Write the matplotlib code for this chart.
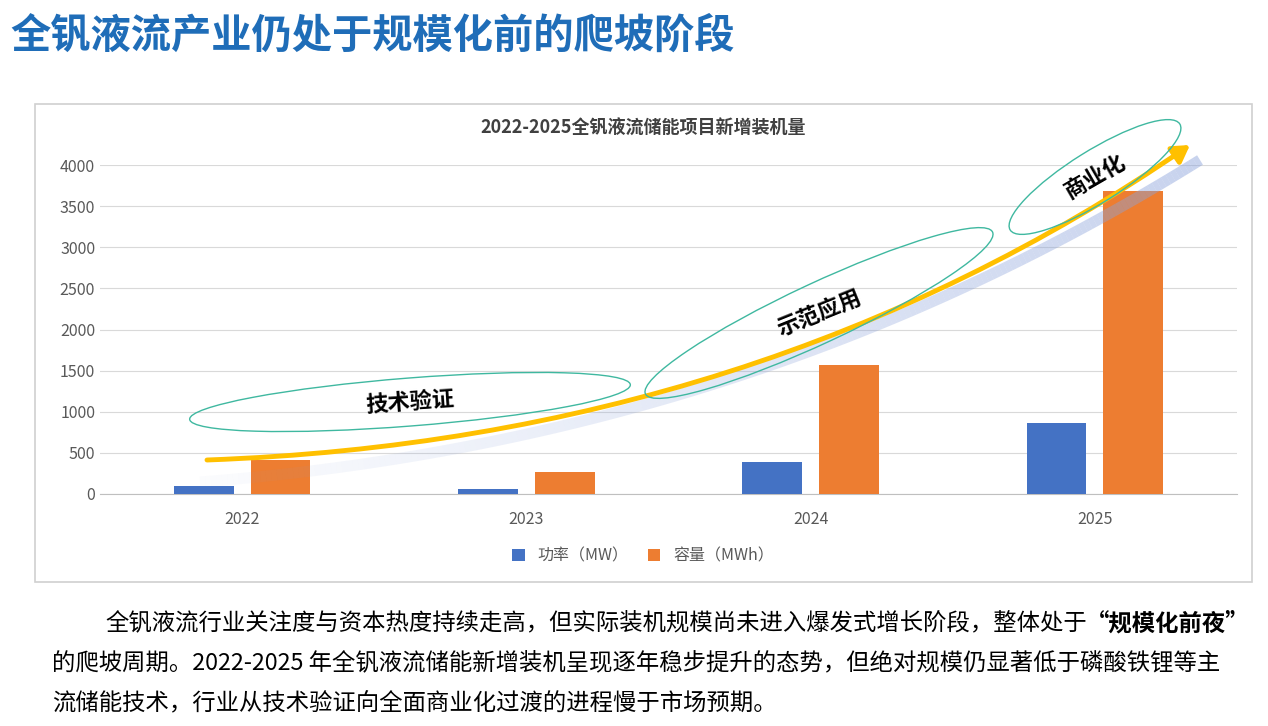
import matplotlib
matplotlib.use("Agg")
import matplotlib.pyplot as plt
import numpy as np
from matplotlib.patches import Ellipse, FancyBboxPatch, FancyArrowPatch
from matplotlib.path import Path
from matplotlib.collections import LineCollection

plt.rcParams['font.family'] = ['Noto Sans CJK SC', 'DejaVu Sans']

years = ['2022', '2023', '2024', '2025']
power_mw = [97, 60, 389, 863]
capacity_mwh = [413, 267, 1568, 3684]
series_names = ['功率（MW）', '容量（MWh）']
chart_title = '2022-2025全钒液流储能项目新增装机量'
page_title = '全钒液流产业仍处于规模化前的爬坡阶段'
stage_labels = ['技术验证', '示范应用', '商业化']

W, H = 1268, 726
fig = plt.figure(figsize=(W/100, H/100), dpi=100)
def fx(x): return x / W
def fy(y): return 1 - y / H

fig.text(fx(10), fy(36), page_title, fontsize=29, fontweight='bold', color='#1F6DB8', va='center')

box = FancyBboxPatch((fx(35), fy(582)), fx(1252)-fx(35), fy(104)-fy(582), boxstyle='square,pad=0',
                     transform=fig.transFigure, facecolor='white', edgecolor='#D0D0D0', lw=1.2, zorder=-10)
fig.patches.append(box)

ax = fig.add_axes([fx(100), fy(494), fx(1237)-fx(100), fy(165)-fy(494)])
ax.patch.set_alpha(0)
x = np.arange(len(years))
bw = 0.21
ax.bar(x - 0.135, power_mw, bw, color='#4472C4', label=series_names[0], zorder=3)
ax.bar(x + 0.135, capacity_mwh, bw, color='#ED7D31', label=series_names[1], zorder=3)
ax.set_xlim(-0.5, 3.5)
ax.set_ylim(0, 4000)
ax.set_yticks(range(0, 4001, 500))
ax.set_xticks(x)
ax.set_xticklabels(years)
ax.tick_params(length=0, labelsize=11.5, colors='#595959')
ax.tick_params(axis='x', pad=12)
ax.grid(axis='y', color='#D9D9D9', lw=0.8, zorder=0)
for s in ['top', 'right', 'left']:
    ax.spines[s].set_visible(False)
ax.spines['bottom'].set_color('#BFBFBF')
ax.legend(loc='center', bbox_to_anchor=(fx(643), fy(556)), bbox_transform=fig.transFigure,
          ncol=2, frameon=False, fontsize=11.5, labelcolor='#595959', handlelength=0.8, handleheight=0.8,
          columnspacing=1.2)
fig.text(fx(643), fy(128), chart_title, ha='center', va='center', fontsize=13, fontweight='bold', color='#404040')

# shadow arrow (gradient blue)
t = np.linspace(0, 1, 200)
p0, p1, p2 = np.array([200, 482]), np.array([750, 440]), np.array([1200, 160])
pts = ((1-t)**2)[:, None]*p0 + (2*(1-t)*t)[:, None]*p1 + (t**2)[:, None]*p2
segs = [[(fx(pts[i,0]), fy(pts[i,1])), (fx(pts[i+1,0]), fy(pts[i+1,1]))] for i in range(len(pts)-1)]
cols = [(0.55, 0.64, 0.86, 0.03 + 0.45 * i / len(segs)) for i in range(len(segs))]
lc = LineCollection(segs, colors=cols, linewidths=8, capstyle='butt', transform=fig.transFigure, zorder=2)
fig.add_artist(lc)

path = Path([(fx(207), fy(460)), (fx(760), fy(440)), (fx(1190), fy(145))],
            [Path.MOVETO, Path.CURVE3, Path.CURVE3])
arr = FancyArrowPatch(path=path, arrowstyle='-|>,head_length=10,head_width=6', color='#FFC000', lw=3.5,
                      transform=fig.transFigure, zorder=4)
fig.add_artist(arr)

def ell(cx, cy, w, h, ang):
    e = Ellipse((fx(cx), fy(cy)), fx(w), 0, angle=0)
    e = Ellipse((cx, H - cy), w, h, angle=ang, fill=False, edgecolor='#3FB8A0', lw=1.0,
                transform=matplotlib.transforms.IdentityTransform(), zorder=5)
    fig.add_artist(e)
ell(410, 402, 442, 48, 4.5)
ell(819, 313, 383, 60, 25)
ell(1095, 177, 200, 52, 32)

fig.text(fx(410), fy(402), stage_labels[0], ha='center', va='center', fontsize=16, fontweight='bold', rotation=4, zorder=6)
fig.text(fx(819), fy(313), stage_labels[1], ha='center', va='center', fontsize=16, fontweight='bold', rotation=22, zorder=6)
fig.text(fx(1095), fy(177), stage_labels[2], ha='center', va='center', fontsize=16, fontweight='bold', rotation=30, zorder=6)

fs = 16.8
fig.text(fx(105), fy(624), '全钒液流行业关注度与资本热度持续走高，但实际装机规模尚未进入爆发式增长阶段，整体处于', fontsize=fs, va='center')
fig.text(fx(1086), fy(624), '“规模化前夜”', fontsize=fs, va='center', fontweight='bold')
fig.text(fx(52), fy(664), '的爬坡周期。2022-2025 年全钒液流储能新增装机呈现逐年稳步提升的态势，但绝对规模仍显著低于磷酸铁锂等主', fontsize=fs, va='center')
fig.text(fx(52), fy(704), '流储能技术，行业从技术验证向全面商业化过渡的进程慢于市场预期。', fontsize=fs, va='center')

fig.savefig('out.png', dpi=100)
